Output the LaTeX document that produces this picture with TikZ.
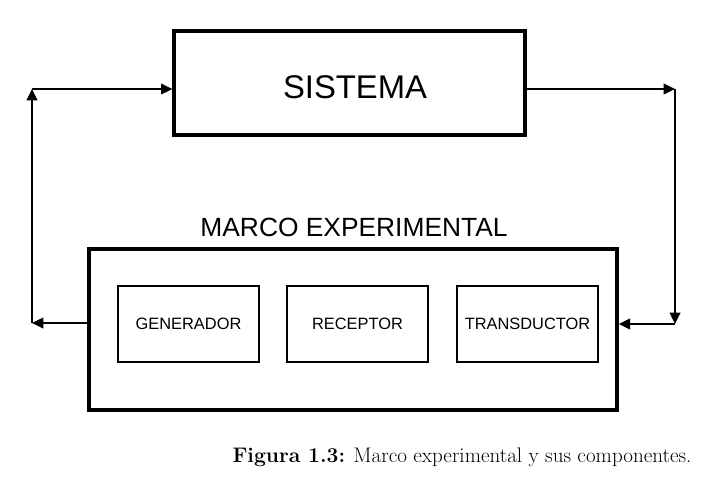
\documentclass[tikz,border=0pt]{standalone}
\usepackage{fontspec}
\usepackage{tikz}
\usetikzlibrary{arrows.meta,positioning,calc}
\newfontfamily\blockfont{Liberation Sans}
\tikzset{
  sysbox/.style={draw=black, line width=2.6pt, inner sep=0pt},
  framebox/.style={draw=black, line width=2.9pt, inner sep=0pt},
  partbox/.style={draw=black, line width=1.6pt, align=center, font=\blockfont\fontsize{14}{16}\selectfont, inner sep=0pt, minimum width=4.23cm, minimum height=2.28cm},
  flow/.style={-{Triangle[length=0.34cm,width=0.31cm]}, line width=2.1pt, draw=black}
}
\begin{document}
\begin{tikzpicture}[x=0.03cm,y=-0.03cm]
  \useasboundingbox (0,0) rectangle (708,502);
  % system block
  \node[sysbox, minimum width=10.53cm, minimum height=3.12cm] (sistema) at (349.5,83) {};
  \node[font=\blockfont\fontsize{28}{30}\selectfont] (sistematext) at (355,87.5) {SISTEMA};
  % experimental frame and its parts
  \node[framebox, minimum width=15.84cm, minimum height=4.83cm] (marco) at (353,329.5) {};
  \node[font=\blockfont\fontsize{22.5}{24}\selectfont] (marcolabel) at (354,227) {MARCO EXPERIMENTAL};
  \node[partbox] (generador) at (188.5,324) {GENERADOR};
  \node[partbox] (receptor) at (357.5,324) {RECEPTOR};
  \node[partbox] (transductor) at (527.5,324) {TRANSDUCTOR};
  % corners of the loop
  \coordinate (lbot) at (32,323);
  \coordinate (ltop) at (32,89);
  \coordinate (rtop) at (675,89);
  \coordinate (rbot) at (675,324);
  \draw[flow] (marco.west |- lbot) -- (lbot);
  \draw[flow] (lbot) -- (ltop);
  \draw[flow] (ltop) -- (sistema.west |- ltop);
  \draw[flow] (sistema.east |- rtop) -- (rtop);
  \draw[flow] (rtop) -- (rbot);
  \draw[flow] (rbot) -- (marco.east |- rbot);
  % caption
  \node[font=\fontsize{18}{21}\selectfont] (caption) at (462,457) {\textbf{Figura 1.3:} Marco experimental y sus componentes.};
\end{tikzpicture}
\end{document}
